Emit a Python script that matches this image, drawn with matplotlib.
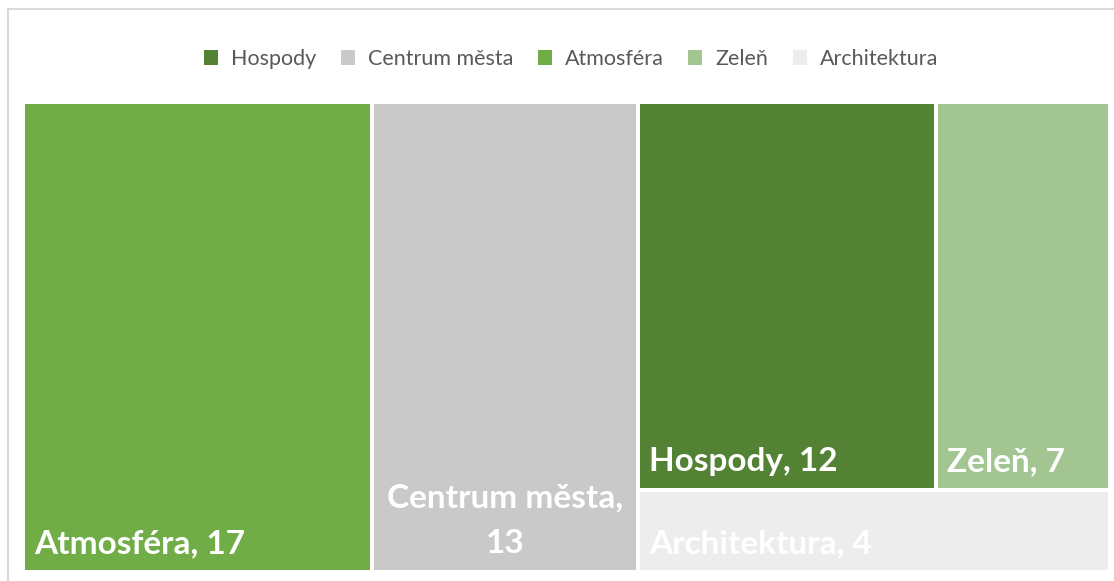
import matplotlib.pyplot as plt
from matplotlib.patches import Rectangle, Patch

# treemap values
labels = ['Atmosféra', 'Centrum města', 'Hospody', 'Zeleň', 'Architektura']
values = [17, 13, 12, 7, 4]
colors = ['#70AD47', '#C9C9C9', '#548235', '#A3C591', '#EDEDED']
legend_order = ['Hospody', 'Centrum města', 'Atmosféra', 'Zeleň', 'Architektura']

plt.rcParams['font.family'] = ['Lato', 'DejaVu Sans']

W, H = 1114, 581
fig = plt.figure(figsize=(W / 100, H / 100), dpi=100)

# outer chart border
fig.patches.append(Rectangle((8 / W, -0.1), 1.2, 1 - 9 / H + 0.1, transform=fig.transFigure,
                             fill=False, edgecolor='#D9D9D9', linewidth=1.5))

# plot area in pixels (left, top, right, bottom), with 2 px for the tile gaps
px0, py0, px1, py1 = 23, 102, 1110, 572
ax = fig.add_axes([px0 / W, 1 - py1 / H, (px1 - px0) / W, (py1 - py0) / H])
ax.set_xlim(0, 1)
ax.set_ylim(0, 1)
ax.axis('off')
gx = 2 / (px1 - px0)
gy = 2 / (py1 - py0)

val = dict(zip(labels, values))
col = dict(zip(labels, colors))
total = sum(values)

# layout: two full-height columns, then a column split into a top row and a bottom strip
rects = {}
x = 0.0
for name in ['Atmosféra', 'Centrum města']:
    w = val[name] / total
    rects[name] = (x, 0.0, w, 1.0)
    x += w
rest = val['Hospody'] + val['Zeleň'] + val['Architektura']
wg = rest / total
top_h = (val['Hospody'] + val['Zeleň']) / rest
rects['Architektura'] = (x, 0.0, wg, 1 - top_h)
xx = x
for name in ['Hospody', 'Zeleň']:
    w = wg * val[name] / (val['Hospody'] + val['Zeleň'])
    rects[name] = (xx, 1 - top_h, w, top_h)
    xx += w

for name, (x0, y0, w, h) in rects.items():
    ax.add_patch(Rectangle((x0 + gx, y0 + gy), w - 2 * gx, h - 2 * gy,
                           facecolor=col[name], edgecolor='none'))
    if name == 'Centrum města':
        ax.annotate(f'{name},\n{val[name]}', xy=(x0 + w / 2, y0 + gy), xytext=(0, 17 * 0.72),
                    textcoords='offset points', ha='center', va='baseline',
                    fontsize=24, fontweight='bold', color='white', linespacing=1.7)
    else:
        ax.annotate(f'{name}, {val[name]}', xy=(x0 + gx, y0 + gy), xytext=(9 * 0.72, 17 * 0.72),
                    textcoords='offset points', ha='left', va='baseline',
                    fontsize=24, fontweight='bold', color='white')

handles = [Patch(facecolor=col[n], edgecolor='none') for n in legend_order]
fig.legend(handles, legend_order, loc='center', bbox_to_anchor=(571 / W, 1 - 59 / H), ncol=5,
           frameon=False, handlelength=0.65, handleheight=0.65, handletextpad=0.6,
           columnspacing=1.15, fontsize=15.5, labelcolor='#595959')

fig.savefig('out.png', dpi=100, facecolor='white')
